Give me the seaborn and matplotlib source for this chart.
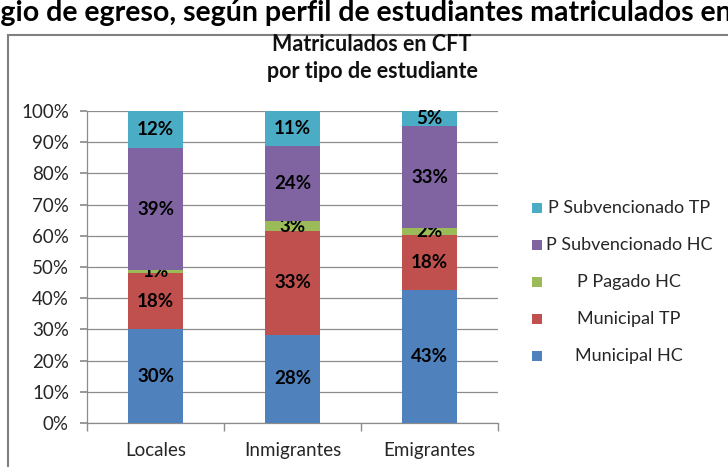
import numpy as np
import pandas as pd
import seaborn as sns
import matplotlib.pyplot as plt
from matplotlib.patches import Rectangle

# Datos (porcentajes mostrados en el gráfico)
tipos = ["Locales", "Inmigrantes", "Emigrantes"]
series = ["Municipal HC", "Municipal TP", "P Pagado HC", "P Subvencionado HC", "P Subvencionado TP"]
municipal_hc = [30, 28, 43]
municipal_tp = [18, 33, 18]
p_pagado_hc = [1, 3, 2]
p_subv_hc = [39, 24, 33]
p_subv_tp = [12, 11, 5]
colores = ["#4F81BD", "#C0504D", "#9BBB59", "#8064A2", "#4BACC6"]

valores = [municipal_hc, municipal_tp, p_pagado_hc, p_subv_hc, p_subv_tp]
df = pd.DataFrame(np.array(valores).T, index=tipos, columns=series)
df_pct = df.div(df.sum(axis=1), axis=0) * 100  # 100% apilado

sns.set_theme(style="white")
plt.rcParams["font.family"] = ["Lato", "DejaVu Sans"]

fig = plt.figure(figsize=(7.28, 4.67), dpi=100)
ax = fig.add_axes([87 / 728, 1 - 423 / 467, 411 / 728, 312 / 467])

# Barras apiladas
bottom = np.zeros(len(tipos))
for serie, color in zip(series, colores):
    sns.barplot(x=tipos, y=df_pct[serie].values, bottom=bottom, color=color,
                width=0.4, ax=ax, zorder=3, saturation=1, linewidth=0)
    ax.bar_label(ax.containers[-1], labels=[f"{v}%" for v in df[serie]],
                 label_type="center", fontweight="bold", fontsize=13.5, color="black")
    bottom += df_pct[serie].values

# Ejes
ax.set_xlim(-0.5, 2.5)
ax.set_ylim(0, 100)
ax.set_yticks(np.arange(0, 101, 10))
ax.set_yticklabels([f"{v}%" for v in range(0, 101, 10)])
ax.yaxis.grid(True, color="#8C8C8C", linewidth=0.9, zorder=0)
ax.set_xticks([-0.5, 0.5, 1.5, 2.5], minor=True)
ax.tick_params(axis="x", which="major", length=0, pad=14, labelsize=13.5, colors="#262626")
ax.tick_params(axis="x", which="minor", length=6, color="#8C8C8C", direction="out", bottom=True)
ax.tick_params(axis="y", length=5, color="#8C8C8C", direction="out", left=True,
               labelsize=13.5, colors="#262626", pad=8)
for s in ["top", "right"]:
    ax.spines[s].set_visible(False)
for s in ["left", "bottom"]:
    ax.spines[s].set_color("#8C8C8C")
    ax.spines[s].set_linewidth(0.9)

# Título
fig.text(372 / 728, 1 - 58 / 467, "Matriculados en CFT\npor tipo de estudiante",
         ha="center", va="center", fontsize=15.5, fontweight="bold", linespacing=1.4,
         color="#111111")

# Título superior cortado
fig.text(-52 / 728, 1 - 21 / 467,
         "colegio de egreso, según perfil de estudiantes matriculados en CFT",
         ha="left", va="baseline", fontsize=20.5, fontweight="bold", color="black")

# Marco del gráfico
fig.patches.append(Rectangle((8 / 728, -0.05), 1.0, 1 - 35 / 467 + 0.05,
                             transform=fig.transFigure, fill=False,
                             edgecolor="#808080", linewidth=1.5))

# Leyenda (texto centrado como en el original)
filas_y = [208, 245, 282, 319, 356]
for serie, color, y in zip(series[::-1], colores[::-1], filas_y):
    fig.patches.append(Rectangle((532 / 728, 1 - (y + 5) / 467), 10 / 728, 10 / 467,
                                 transform=fig.transFigure, facecolor=color,
                                 edgecolor="none"))
    fig.text(629 / 728, 1 - y / 467, serie, ha="center", va="center",
             fontsize=13, color="#262626")

fig.savefig("out.png", dpi=100)
